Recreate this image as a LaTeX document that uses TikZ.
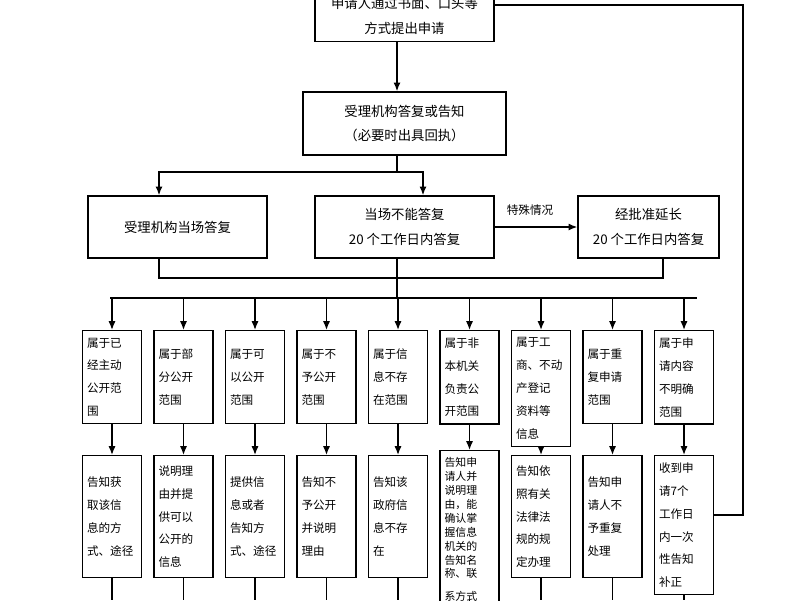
\documentclass[tikz,border=0pt]{standalone}
\usepackage{fontspec}
\newfontfamily\cjk{Noto Sans CJK SC}
\usetikzlibrary{arrows.meta,positioning,calc}

\begin{document}
\begin{tikzpicture}[
    x=0.02cm, y=-0.02cm,
    box/.style={rectangle, draw, thick, minimum width=#1, inner sep=0pt, align=center, font=\cjk\fontsize{7.6}{14}\selectfont},
    col/.style={rectangle, draw, thick, minimum width=1.18cm, text width=1.0cm, inner xsep=0pt, inner ysep=4pt, anchor=north, align=left, font=\cjk\fontsize{6.6}{13}\selectfont},
    arrow/.style={-{Latex[length=5pt,width=4pt]}, thick},
    line/.style={thick}
  ]
  \useasboundingbox (0,0) rectangle (800,600);
  \clip (0,0) rectangle (800,600);

  \node[box=3.58cm, minimum height=1.38cm] (apply) at (404.5,7) {};
  \node[font=\cjk\fontsize{7.6}{14}\selectfont, align=center] (applytext) at (404.5,16) {申请人通过书面、口头等\\方式提出申请};
  \node[box=4.06cm, minimum height=1.26cm] (accept) at (404.5,123.5) {受理机构答复或告知\\（必要时出具回执）};
  \node[box=3.58cm, minimum height=1.24cm] (onsite) at (177.5,227) {受理机构当场答复};
  \node[box=3.58cm, minimum height=1.24cm] (later) at (404.5,227) {当场不能答复\\20 个工作日内答复};
  \node[box=2.82cm, minimum height=1.24cm] (extend) at (648.5,227) {经批准延长\\20 个工作日内答复};
  \node[font=\cjk\fontsize{6.6}{8}\selectfont] (special) at (530,210) {特殊情况};

  \coordinate (split) at (397,172);
  \coordinate (join) at (397,278);
  \coordinate (fan) at (397,298);

  \draw[arrow] (apply.south -| split) -- (accept.north -| split);
  \draw[line] (accept.south -| split) -- (split);
  \draw[arrow] (split) -| (onsite.north -| 159,0);
  \draw[arrow] (split) -| (later.north -| 423,0);
  \draw[arrow] (later.east) -- (extend.west);
  \draw[line] (onsite.south -| 159,0) -- (159,278) -- (663,278) -- (extend.south -| 663,0);
  \draw[line] (later.south -| join) -- (fan);
  \draw[line] (110,298) -- (697,298);

  % nine kinds of request
  \foreach \i/\top/\bot/\h in {
      1/{属于已\\经主动\\公开范\\围}/{告知获\\取该信\\息的方\\式、途径}/2.44cm,
      2/{属于部\\分公开\\范围}/{说明理\\由并提\\供可以\\公开的\\信息}/2.44cm,
      3/{属于可\\以公开\\范围}/{提供信\\息或者\\告知方\\式、途径}/2.44cm,
      4/{属于不\\予公开\\范围}/{告知不\\予公开\\并说明\\理由}/2.44cm,
      5/{属于信\\息不存\\在范围}/{告知该\\政府信\\息不存\\在}/2.44cm,
      6/{属于非\\本机关\\负责公\\开范围}/{\fontsize{6.2}{7.9}\selectfont 告知申\\请人并\\说明理\\由，能\\确认掌\\握信息\\机关的\\告知名\\称、联\\系方式}/2.84cm,
      7/{属于工\\商、不动\\产登记\\资料等\\信息}/{告知依\\照有关\\法律法\\规的规\\定办理}/2.44cm,
      8/{属于重\\复申请\\范围}/{告知申\\请人不\\予重复\\处理}/2.44cm,
      9/{属于申\\请内容\\不明确\\范围}/{收到申\\请7个\\工作日\\内一次\\性告知\\补正}/2.5cm} {
    \pgfmathsetmacro\cx{112+71.5*(\i-1)}
    \node[col, minimum height=1.86cm] (k\i) at (\cx,330) {\top};
    \node[col, minimum height=\h] (r\i) at (\cx,\ifnum\i=6 450\else 455\fi) {\bot};
    \draw[arrow] (\cx,298) -- (k\i.north);
    \draw[arrow] (k\i.south) -- (r\i.north);
    \draw[line] (r\i.south) -- (\cx,600);
  }

  \draw[line] (r9.east |- 0,515) -- (743,515) -- (743,5) -- (apply.east |- 0,5);

\end{tikzpicture}
\end{document}
